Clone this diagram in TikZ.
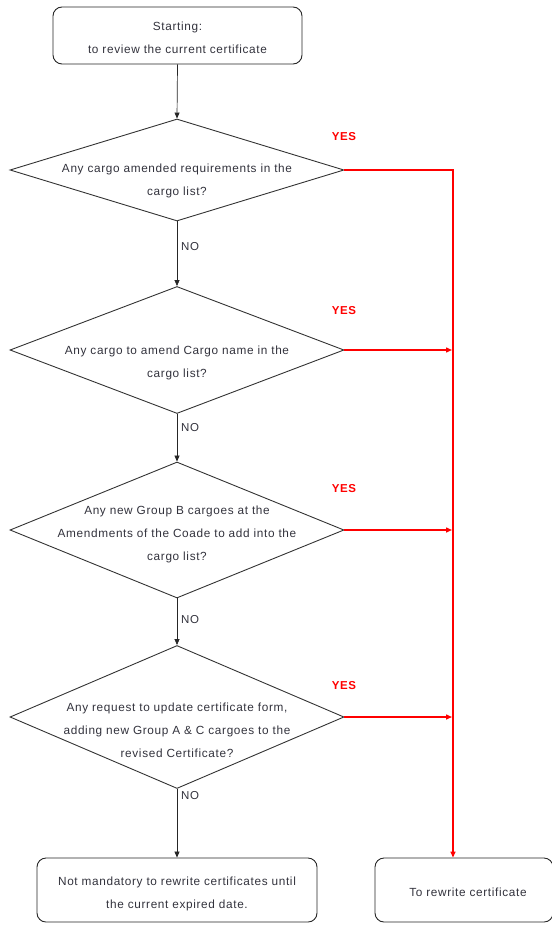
\documentclass[tikz,border=0pt]{standalone}
\usepackage{fontspec}
\setmainfont{Liberation Sans}[LetterSpace=5.5]
\usetikzlibrary{shapes.geometric,arrows.meta}
\definecolor{txt}{RGB}{50,50,60}
\definecolor{yesred}{RGB}{255,0,0}
\tikzset{
  box/.style={draw=black!85, line width=0.9pt, rounded corners=9pt, inner sep=0pt},
  dia/.style={draw=black!80, line width=0.9pt, shape=diamond, inner sep=0pt, aspect=1},
  lbl/.style={text=txt, align=center, inner sep=0pt, font=\fontsize{11.8}{23}\selectfont},
  flow/.style={draw=black!85, line width=0.7pt, -{Triangle[length=6pt,width=5pt]}},
  yesflow/.style={draw=yesred, line width=1.4pt, -{Triangle[length=6pt,width=5pt]}},
  yeslbl/.style={text=yesred, font=\bfseries\fontsize{11.5}{12}\selectfont, inner sep=0pt},
  nolbl/.style={text=txt, font=\fontsize{11.5}{12}\selectfont, inner sep=0pt, anchor=west}
}
\begin{document}
\begin{tikzpicture}[x=1pt,y=-1pt]
\useasboundingbox (0,0) rectangle (551,925);
% start
\node[box, minimum width=249pt, minimum height=57pt] (start) at (177.5,35.5) {};
\node[lbl] (starttxt) at (177.5,38) {Starting:\\to review the current certificate};
% diamonds
\node[dia, minimum width=334pt, minimum height=102pt] (d1) at (177,170) {};
\node[lbl] (t1) at (177,181) {Any cargo amended requirements in the\\cargo list?};
\node[dia, minimum width=334pt, minimum height=127pt] (d2) at (177,350) {};
\node[lbl] (t2) at (177,362.5) {Any cargo to amend Cargo name in the\\cargo list?};
\node[dia, minimum width=334pt, minimum height=136pt] (d3) at (177,530) {};
\node[lbl] (t3) at (177,534) {Any new Group B cargoes at the\\Amendments of the Coade to add into the\\cargo list?};
\node[dia, minimum width=334pt, minimum height=143pt] (d4) at (177,717) {};
\node[lbl] (t4) at (177,730) {Any request to update certificate form,\\adding new Group A \& C cargoes to the\\revised Certificate?};
% end boxes
\node[box, minimum width=280pt, minimum height=64pt] (nm) at (177,890) {};
\node[lbl] (nmtxt) at (177,894) {Not mandatory to rewrite certificates until\\the current expired date.};
\node[box, minimum width=178pt, minimum height=64pt] (rw) at (464,890) {};
\node[lbl] (rwtxt) at (468,892) {To rewrite certificate};
% black flow
\draw[flow] (start.south) -- (d1.north);
\draw[flow] (d1.south) -- (d2.north);
\draw[flow] (d2.south) -- (d3.north);
\draw[flow] (d3.south) -- (d4.north);
\draw[flow] (d4.south) -- (d4.south |- nm.north);
% NO labels
\node[nolbl] (no1) at (181,247) {NO};
\node[nolbl] (no2) at (181,428) {NO};
\node[nolbl] (no3) at (181,620) {NO};
\node[nolbl] (no4) at (181,796) {NO};
% YES labels
\node[yeslbl] (y1) at (344,137) {YES};
\node[yeslbl] (y2) at (344,311) {YES};
\node[yeslbl] (y3) at (344,489) {YES};
\node[yeslbl] (y4) at (344,686) {YES};
% red flow
\coordinate (bus) at (453,170);
\coordinate (tip) at (452,0);
\draw[yesflow] (d1.east) -- (bus) -- (bus |- rw.north);
\draw[yesflow] (d2.east) -- (tip |- d2.east);
\draw[yesflow] (d3.east) -- (tip |- d3.east);
\draw[yesflow] (d4.east) -- (tip |- d4.east);
\end{tikzpicture}
\end{document}
